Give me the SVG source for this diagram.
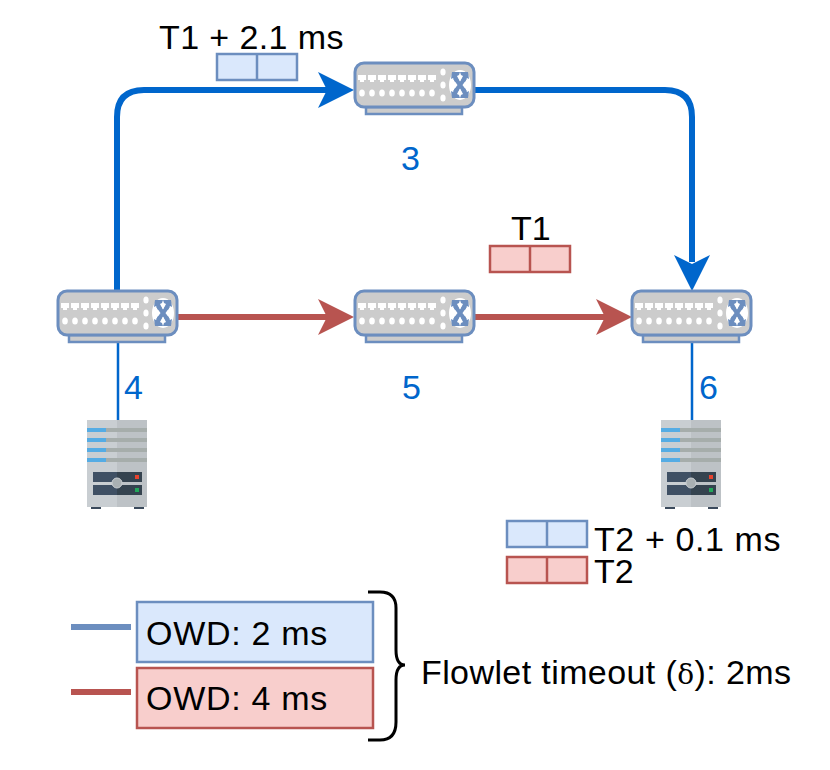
<svg xmlns="http://www.w3.org/2000/svg" xmlns:xlink="http://www.w3.org/1999/xlink" width="830" height="770" viewBox="0 0 830 770">
<style>
text{font-family:"Liberation Sans",Arial,sans-serif;font-size:34px;fill:#000}
.num{fill:#0066cc}
.b{fill:#dae8fc;stroke:#6c8ebf;stroke-width:2.5}
.r{fill:#f8cecc;stroke:#b85450;stroke-width:2.5}
.blue{fill:none;stroke:#0066cc;stroke-width:6}
.red{fill:none;stroke:#b85450;stroke-width:6}
.dot{fill:#fff}
</style>
<defs>
<g id="switch">
<rect x="11" y="44" width="96" height="7" fill="#ccc" stroke="#6c8ebf" stroke-width="2.5"/>
<rect x="0" y="0" width="119" height="44" rx="9" fill="#ccc" stroke="#6c8ebf" stroke-width="3"/>
<g class="dot">
<path d="M3 12h8v5h-2v2h-4v-2h-2zM13 12h8v5h-2v2h-4v-2h-2zM23 12h8v5h-2v2h-4v-2h-2zM33 12h8v5h-2v2h-4v-2h-2zM43 12h8v5h-2v2h-4v-2h-2zM53 12h8v5h-2v2h-4v-2h-2zM63 12h8v5h-2v2h-4v-2h-2zM73 12h8v5h-2v2h-4v-2h-2z"/>
<ellipse cx="7" cy="30" rx="2.8" ry="3.6"/><ellipse cx="17" cy="30" rx="2.8" ry="3.6"/><ellipse cx="27" cy="30" rx="2.8" ry="3.6"/><ellipse cx="37" cy="30" rx="2.8" ry="3.6"/><ellipse cx="47" cy="30" rx="2.8" ry="3.6"/><ellipse cx="57" cy="30" rx="2.8" ry="3.6"/><ellipse cx="67" cy="30" rx="2.8" ry="3.6"/><ellipse cx="77" cy="30" rx="2.8" ry="3.6"/>
<ellipse cx="88" cy="9" rx="2.6" ry="3.6"/><ellipse cx="88" cy="22" rx="2.6" ry="3.6"/><ellipse cx="88" cy="35" rx="2.6" ry="3.6"/>
<ellipse cx="105" cy="22" rx="11" ry="15"/>
</g>
<path d="M100 15L110 29M110 15L100 29" fill="none" stroke="#6c8ebf" stroke-width="4"/>
<path fill="#6c8ebf" d="M97 9h8l-1 3-2 1 2 4-4 2-2-4-2 1zM113 9h-8l1 3 2 1-2 4 4 2 2-4 2 1zM97 35h8l-1-3-2-1 2-4-4-2-2 4-2-1zM113 35h-8l1-3 2-1-2-4 4-2 2 4 2-1z"/>
</g>
<g id="server">
<rect x="4" y="86" width="10" height="3" fill="#3b4a5c"/>
<rect x="47" y="86" width="10" height="3" fill="#3b4a5c"/>
<rect x="0" y="0" width="60" height="87" fill="#c9ced2"/>
<rect x="30" y="0" width="30" height="87" fill="#bdc2c6"/>
<g fill="#a6adab"><rect x="19" y="8" width="41" height="4"/><rect x="19" y="18" width="41" height="4"/><rect x="19" y="28" width="41" height="4"/><rect x="19" y="38" width="41" height="4"/></g>
<g fill="#55ace4"><rect x="0" y="8" width="19" height="4"/><rect x="0" y="18" width="19" height="4"/><rect x="0" y="28" width="19" height="4"/><rect x="0" y="38" width="19" height="4"/></g>
<rect x="6" y="52" width="49" height="10" fill="#3f5064"/>
<rect x="6" y="65" width="49" height="10" fill="#3f5064"/>
<rect x="30" y="52" width="25" height="10" fill="#35434f"/>
<rect x="30" y="65" width="25" height="10" fill="#35434f"/>
<circle cx="30" cy="63" r="5" fill="#a9b0b3" stroke="#c9ced2"/>
<rect x="48" y="55" width="4" height="4" fill="#e8432e"/>
<rect x="48" y="68" width="4" height="4" fill="#22a85a"/>
</g>
<g id="packetB"><rect x="0" y="0" width="80" height="26" class="b"/><line x1="40" y1="0" x2="40" y2="26" stroke="#6c8ebf" stroke-width="2.5"/></g>
<g id="packetR"><rect x="0" y="0" width="80" height="26" class="r"/><line x1="40" y1="0" x2="40" y2="26" stroke="#b85450" stroke-width="2.5"/></g>
</defs>

<g id="connectors">
<path class="blue" d="M117 291V117Q117 90 144 90H328"/>
<path fill="#0066cc" d="M354 90L318 108L327 90L318 72Z"/>
<path class="blue" d="M474 90H665Q692 90 692 117V262"/>
<path fill="#0066cc" d="M692 291L674 255L692 264L710 255Z"/>
<path class="red" d="M177 317H328"/>
<path fill="#b85450" d="M354 317L318 335L327 317L318 299Z"/>
<path class="red" d="M474 317H606"/>
<path fill="#b85450" d="M632 317L596 335L605 317L596 299Z"/>
<path d="M118 342V420M692 342V420" fill="none" stroke="#0066cc" stroke-width="2.5"/>
</g>

<g id="node3"><use xlink:href="#switch" href="#switch" x="355" y="63"/><text class="num" x="401" y="170">3</text></g>
<g id="node4"><use xlink:href="#switch" href="#switch" x="58" y="291"/><text class="num" x="124" y="399">4</text></g>
<g id="node5"><use xlink:href="#switch" href="#switch" x="355" y="291"/><text class="num" x="402" y="399">5</text></g>
<g id="node6"><use xlink:href="#switch" href="#switch" x="632" y="291"/><text class="num" x="699" y="399">6</text></g>
<g id="server4"><use xlink:href="#server" href="#server" x="87" y="420"/></g>
<g id="server6"><use xlink:href="#server" href="#server" x="661" y="420"/></g>

<g id="packet-t1-delayed"><use xlink:href="#packetB" href="#packetB" x="217" y="54"/><text x="159" y="49" letter-spacing="0.4">T1 + 2.1 ms</text></g>
<g id="packet-t1"><use xlink:href="#packetR" href="#packetR" x="490" y="246"/><text x="511" y="240">T1</text></g>
<g id="packet-t2-delayed"><use xlink:href="#packetB" href="#packetB" x="507" y="521"/><text x="594" y="551" letter-spacing="0.6">T2 + 0.1 ms</text></g>
<g id="packet-t2"><use xlink:href="#packetR" href="#packetR" x="507" y="557"/><text x="594" y="583">T2</text></g>

<g id="legend">
<line x1="71" y1="627" x2="131" y2="627" stroke="#6c8ebf" stroke-width="6"/>
<line x1="71" y1="692" x2="131" y2="692" stroke="#b85450" stroke-width="6"/>
<rect x="137" y="602" width="236" height="60" class="b"/>
<rect x="137" y="668" width="236" height="60" class="r"/>
<text x="146" y="645" letter-spacing="0.7">OWD: 2 ms</text>
<text x="146" y="710" letter-spacing="0.7">OWD: 4 ms</text>
<path d="M368 592H380Q396 592 396 608V650Q396 665 405 665Q396 665 396 680V722Q396 740 380 740H368" fill="none" stroke="#000" stroke-width="3"/>
<text x="421" y="684" letter-spacing="0.4">Flowlet timeout (<tspan font-family="'DejaVu Serif',serif" font-size="28">δ</tspan>): 2ms</text>
</g>
</svg>
